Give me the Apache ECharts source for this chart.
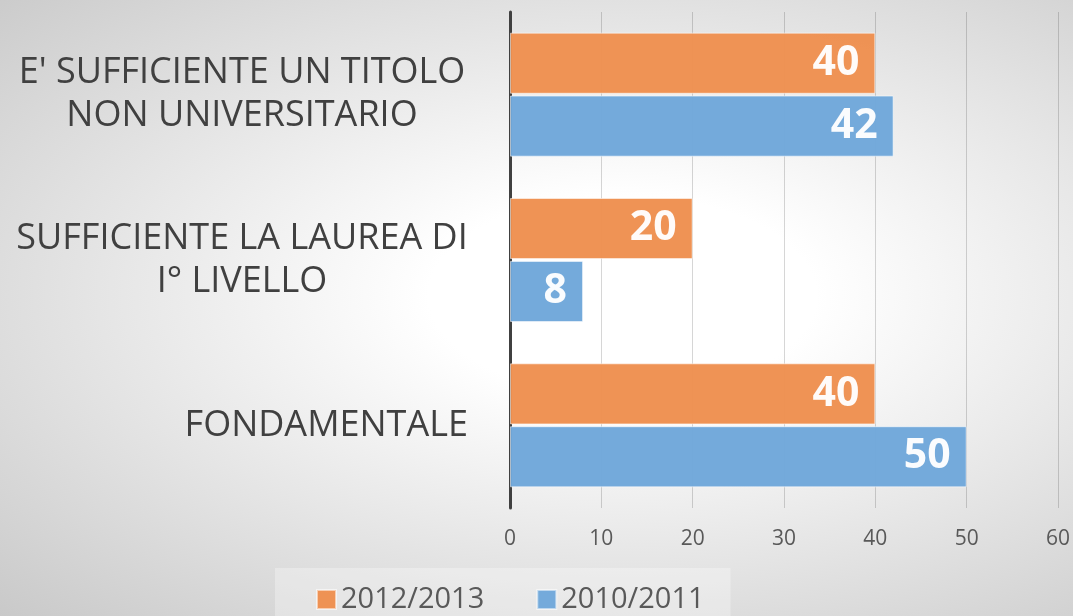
<!DOCTYPE html>
<html>
<head>
<meta charset="utf-8">
<script src="https://cdn.jsdelivr.net/npm/echarts@6/dist/echarts.min.js"></script>
<style>
  html, body { margin: 0; padding: 0; }
  #chart {
    width: 1073px; height: 616px;
    background: radial-gradient(ellipse farthest-corner at 58% 48%, #ffffff 0%, #ffffff 22%, #c9c9c9 100%);
  }
</style>
</head>
<body>
<div id="chart"></div>
<script>
// Categories listed bottom-to-top (category axis order)
const categories = [
  "FONDAMENTALE",
  "SUFFICIENTE LA LAUREA DI\nI° LIVELLO",
  "E' SUFFICIENTE UN TITOLO\nNON UNIVERSITARIO"
];
const seriesNames = ["2012/2013", "2010/2011"];
const values2012 = [40, 20, 40];
const values2010 = [50, 8, 42];
const xTicks = { min: 0, max: 60, interval: 10 };

const FONT = "'Open Sans', 'DejaVu Sans', sans-serif";
const CAT_SIZE = 36;

// measure widest line for centering multi-line category labels
const cv = document.createElement('canvas').getContext('2d');
cv.font = CAT_SIZE + "px 'Open Sans'";
function lineW(s) { return Math.ceil(cv.measureText(s).width); }

const chart = echarts.init(document.getElementById('chart'), null, { renderer: 'canvas' });

const labelStyle = {
  show: true,
  position: 'insideRight',
  distance: 16,
  color: '#ffffff',
  fontFamily: FONT,
  fontWeight: 'bold',
  fontSize: 41
};

chart.setOption({
  backgroundColor: 'transparent',
  animation: false,
  grid: { left: 510, right: 12, top: 12, bottom: 108, containLabel: false },
  legend: {
    data: seriesNames,
    left: 275,
    top: 568,
    padding: [17, 26, 12, 41],
    backgroundColor: 'rgba(255,255,255,0.3)',
    itemWidth: 19,
    itemHeight: 19,
    itemGap: 52,
    icon: 'rect',
    textStyle: { fontFamily: FONT, fontSize: 29, color: '#595959' }
  },
  xAxis: {
    type: 'value',
    min: xTicks.min,
    max: xTicks.max,
    interval: xTicks.interval,
    axisLine: { show: false },
    axisTick: { show: false },
    splitLine: { show: true, lineStyle: { color: 'rgba(0,0,0,0.16)', width: 1 } },
    axisLabel: { fontFamily: FONT, fontSize: 21, color: '#595959', margin: 21 }
  },
  yAxis: {
    type: 'category',
    data: categories,
    axisLine: { show: true, onZero: false, lineStyle: { color: '#404040', width: 3 } },
    axisTick: { show: false },
    splitLine: { show: false },
    axisLabel: {
      margin: 42,
      align: 'right',
      fontFamily: FONT,
      fontSize: CAT_SIZE,
      color: '#404040',
      lineHeight: 43,
      formatter: function (v) {
        const lines = v.split('\n');
        if (lines.length === 1) return v;
        return lines.map(l => '{c|' + l + '}').join('\n');
      },
      rich: {
        c: {
          fontFamily: FONT, fontSize: CAT_SIZE, color: '#404040', lineHeight: 43,
          align: 'center',
          width: Math.max(lineW("E' SUFFICIENTE UN TITOLO"), lineW("SUFFICIENTE LA LAUREA DI"))
        }
      }
    }
  },
  series: [
    {
      name: seriesNames[0],
      type: 'bar',
      data: values2012,
      barCategoryGap: '25%',
      barGap: '3%',
      itemStyle: { color: '#EE8F4F', opacity: 0.97, borderColor: 'rgba(255,255,255,0.55)', borderWidth: 1 },
      label: labelStyle
    },
    {
      name: seriesNames[1],
      type: 'bar',
      data: values2010,
      barCategoryGap: '25%',
      barGap: '3%',
      itemStyle: { color: '#6FA7DA', opacity: 0.97, borderColor: 'rgba(255,255,255,0.55)', borderWidth: 1 },
      label: labelStyle
    }
  ]
});
</script>
</body>
</html>
